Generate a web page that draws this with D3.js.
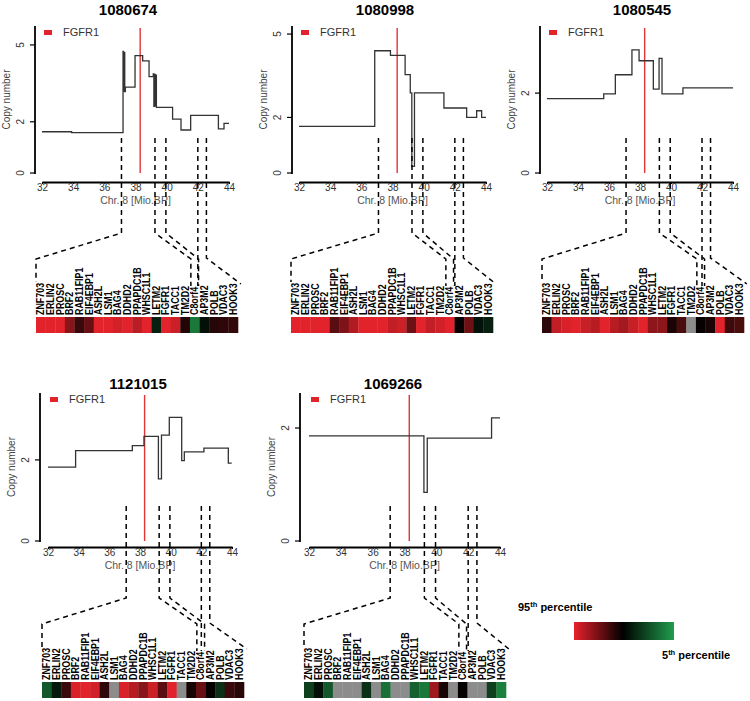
<!DOCTYPE html>
<html><head><meta charset="utf-8">
<script src="https://cdn.jsdelivr.net/npm/d3@7"></script>
<style>body{margin:0;background:#fff} svg{display:block;font-family:"Liberation Sans",Arial,sans-serif}</style>
</head><body><svg id="c" width="750" height="701"></svg>
<script>
// ---------------- data ----------------
const samples = ["1080674","1080998","1080545","1121015","1069266"];
const genes = ["ZNF703","ERLIN2","PROSC","BRF2","RAB11FIP1","EIF4EBP1","ASH2L","LSM1","BAG4","DDHD2","PPAPDC1B","WHSC1L1","LETM2","FGFR1","TACC1","TM2D2","C8orf4","AP3M2","POLB","VDAC3","HOOK3"];
const xTicks = [32,34,36,38,40,42,44];
const yTicks = [0,2,5];
const fgfr1Pos = 38.3;
const markerPos = [37.1,39.25,39.95,42.0,42.55];
const axisMax = [5.74,5.29,3.68,3.65,2.62];

// copy number segments: [start Mb, copy number]
const cn1080674 = [[32.0,1.61],[33.9,1.58],[37.2,4.75],[37.24,3.2],[37.27,4.7],[37.31,3.18],[37.35,3.35],[37.97,4.58],[38.46,4.38],[38.87,3.76],[39.14,3.87],[39.18,2.6],[39.22,3.85],[39.26,2.62],[39.3,3.82],[39.34,2.56],[40.38,2.1],[40.92,1.68],[41.54,2.25],[43.32,1.72],[43.68,1.94],[44.0,1.94]];
const cn1080998 = [[32.0,1.68],[36.86,4.4],[37.87,4.23],[38.81,3.54],[39.14,2.88],[39.24,0.24],[39.41,2.88],[41.3,2.34],[42.76,2.0],[43.4,2.24],[43.72,2.0],[44.0,2.0]];
const cn1080545 = [[32.0,1.86],[35.66,1.98],[36.41,2.46],[37.48,3.08],[37.94,2.81],[38.86,2.1],[39.23,2.87],[39.42,1.98],[40.77,2.13],[44.0,2.13]];
const cn1121015 = [[32.0,1.82],[33.8,2.23],[37.5,2.35],[38.26,2.58],[39.2,1.53],[39.4,2.61],[39.91,3.05],[40.72,1.98],[40.89,2.2],[42.17,2.29],[43.76,1.92],[43.98,1.92]];
const cn1069266 = [[32.0,1.86],[39.22,0.86],[39.43,1.82],[43.47,2.18],[44.0,2.18]];

// expression (scaled: 1 = 95th percentile red, -1 = 5th percentile green, null = NA grey)
const ex1080674 = [1,1,1,0.6,0.25,0.45,1,1,0.93,1,0.82,1,-0.2,1,0.9,0.15,-0.75,-0.1,0.17,0.2,0.22];
const ex1080998 = [1,1,1,1,0.4,0.55,0.78,1,1,1,0.85,0.9,0.48,1,0.85,0.92,1,0.03,0.48,-0.12,-0.2];
const ex1080545 = [0.2,0.85,0.95,1,0.88,0.8,1,0.8,0.72,0.88,1,0.62,0.62,0.12,0.33,null,0.03,0.12,1,0.27,0.33];
const ex1121015 = [-0.55,-0.15,0.25,0.95,1,0.92,0.2,null,0.95,0.8,0.6,0.9,0.4,1,null,0.1,0.45,0.02,-0.3,0.25,0.18];
const ex1069266 = [-0.4,-0.1,-0.55,null,null,null,-0.3,null,-0.7,null,null,-0.6,-0.75,0.7,0.1,null,0.02,null,null,-0.4,-0.8];

const copyNumber = [cn1080674,cn1080998,cn1080545,cn1121015,cn1069266];
const expression = [ex1080674,ex1080998,ex1080545,ex1121015,ex1069266];

// ---------------- layout ----------------
const layout = [
  {x0:42, x1:229, axisX:35, zeroY:173, topY:26, axisY:182, titleX:128, titleY:15, hmX:36},
  {x0:299,x1:486, axisX:292,zeroY:173, topY:26, axisY:182, titleX:385, titleY:15, hmX:291},
  {x0:547,x1:733, axisX:540,zeroY:173, topY:26, axisY:182, titleX:642, titleY:15, hmX:542},
  {x0:48, x1:232, axisX:40, zeroY:541, topY:393,axisY:547, titleX:138, titleY:389,hmX:42},
  {x0:309,x1:500, axisX:300,zeroY:541, topY:393,axisY:547, titleX:393, titleY:389,hmX:304}
];
const hmW = 202, hmH = 16;
const colorScale = d3.scaleLinear().domain([-1,0,1]).range(["#22a04e","#000000","#e3232b"]);

const svg = d3.select("#c");

samples.forEach((s,i)=>{
  const L = layout[i];
  const g = svg.append("g");
  const x = d3.scaleLinear().domain([32,44]).range([L.x0,L.x1]);
  const y = d3.scaleLinear().domain([0,axisMax[i]]).range([L.zeroY,L.topY]);

  // title
  g.append("text").attr("x",L.titleX).attr("y",L.titleY).attr("text-anchor","middle")
    .attr("font-size",15).attr("font-weight","bold").text(s);

  // legend
  g.append("rect").attr("x",L.x0+2).attr("y",L.topY+4).attr("width",8).attr("height",5).attr("fill","#e3232b");
  g.append("text").attr("x",L.x0+21).attr("y",L.topY+10).attr("font-size",11).attr("fill","#333").text("FGFR1");

  // y axis
  const ya = g.append("g").attr("transform",`translate(${L.axisX},0)`);
  ya.append("line").attr("y1",L.zeroY+1).attr("y2",L.topY).attr("stroke","#000").attr("stroke-width",1.8);
  yTicks.filter(t=>t<=axisMax[i]).forEach(t=>{
    ya.append("line").attr("x1",0).attr("x2",-5).attr("y1",y(t)).attr("y2",y(t)).attr("stroke","#000").attr("stroke-width",1.2);
    ya.append("text").attr("transform",`translate(-11,${y(t)}) rotate(-90)`).attr("text-anchor","middle")
      .attr("font-size",10).attr("fill","#333").text(t);
  });
  g.append("text").attr("transform",`translate(${L.axisX-25},${(L.zeroY+L.topY)/2}) rotate(-90)`)
    .attr("text-anchor","middle").attr("font-size",10).attr("fill","#444").text("Copy number");

  // x axis
  const xa = d3.axisBottom(x).tickValues(xTicks).tickSize(2).tickPadding(0).tickSizeOuter(0);
  const xg = g.append("g").attr("transform",`translate(0,${L.axisY})`).call(xa);
  xg.select(".domain").attr("stroke","#000").attr("stroke-width",1.8);
  xg.selectAll(".tick line").attr("stroke","#000");
  xg.selectAll(".tick text").attr("font-size",10).attr("fill","#333").attr("font-family","Liberation Sans, Arial, sans-serif");
  g.append("text").attr("x",(L.x0+L.x1)/2).attr("y",L.axisY+22).attr("text-anchor","middle")
    .attr("font-size",10.5).attr("fill","#555").text("Chr. 8 [Mio.BP]");

  // FGFR1 line
  g.append("line").attr("x1",x(fgfr1Pos)).attr("x2",x(fgfr1Pos)).attr("y1",L.topY+2).attr("y2",L.zeroY)
    .attr("stroke","#e23535").attr("stroke-width",1.4);

  // copy number step line
  const line = d3.line().x(d=>x(d[0])).y(d=>y(d[1])).curve(d3.curveStepAfter);
  g.append("path").datum(copyNumber[i]).attr("d",line).attr("fill","none")
    .attr("stroke","#333").attr("stroke-width",1.3);

  // heatmap
  const hb = d3.scaleBand().domain(genes).range([L.hmX,L.hmX+hmW]);
  const cw = hb.bandwidth();
  const hmY = L.axisY + 135;
  g.selectAll("rect.cell").data(expression[i]).enter().append("rect")
    .attr("x",(d,j)=>hb(genes[j])).attr("y",hmY).attr("width",cw+0.3).attr("height",hmH)
    .attr("fill",d=> d===null ? "#8c8c8c" : colorScale(d));
  genes.forEach(gn=>{
    g.append("text").attr("transform",`translate(${hb(gn)+cw/2},${hmY-2}) rotate(-90) scale(0.89,1)`)
      .attr("dy","0.36em").attr("font-size",10).attr("font-weight","bold").text(gn);
  });

  // connectors
  const top = L.zeroY-35, a = L.axisY;
  const paths = [
    [[x(markerPos[0]),top],[x(markerPos[0]),a+51],[L.hmX,a+77],[L.hmX,a+100]],
    [[x(markerPos[1]),top],[x(markerPos[1]),a+51],[L.hmX+16.1*cw,a+77],[L.hmX+16.1*cw,a+104]],
    [[x(markerPos[2]),top],[x(markerPos[2]),a+51],[L.hmX+16.9*cw,a+77],[L.hmX+16.9*cw,a+104]],
    [[x(markerPos[3]),top],[x(markerPos[3]),a+104]],
    [[x(markerPos[4]),top],[x(markerPos[4]),a+76],[L.hmX+21.3*cw,a+102]]
  ];
  paths.forEach(p=>{
    g.append("path").attr("d",d3.line()(p)).attr("fill","none").attr("stroke","#000")
      .attr("stroke-width",1.5).attr("stroke-dasharray","5,4");
  });
});

// color legend
const defs = svg.append("defs");
const grad = defs.append("linearGradient").attr("id","rg");
grad.append("stop").attr("offset","0%").attr("stop-color","#e8202a");
grad.append("stop").attr("offset","49%").attr("stop-color","#000");
grad.append("stop").attr("offset","100%").attr("stop-color","#1f9d4c");
svg.append("rect").attr("x",574).attr("y",622).attr("width",100).attr("height",18).attr("fill","url(#rg)");
const t1 = svg.append("text").attr("x",518).attr("y",611).attr("font-size",11).attr("font-weight","bold");
t1.append("tspan").text("95");
t1.append("tspan").attr("font-size",7.5).attr("dy",-4).text("th");
t1.append("tspan").attr("dy",4).text(" percentile");
const t2 = svg.append("text").attr("x",662).attr("y",659).attr("font-size",11).attr("font-weight","bold");
t2.append("tspan").text("5");
t2.append("tspan").attr("font-size",7.5).attr("dy",-4).text("th");
t2.append("tspan").attr("dy",4).text(" percentile");
</script></body></html>
